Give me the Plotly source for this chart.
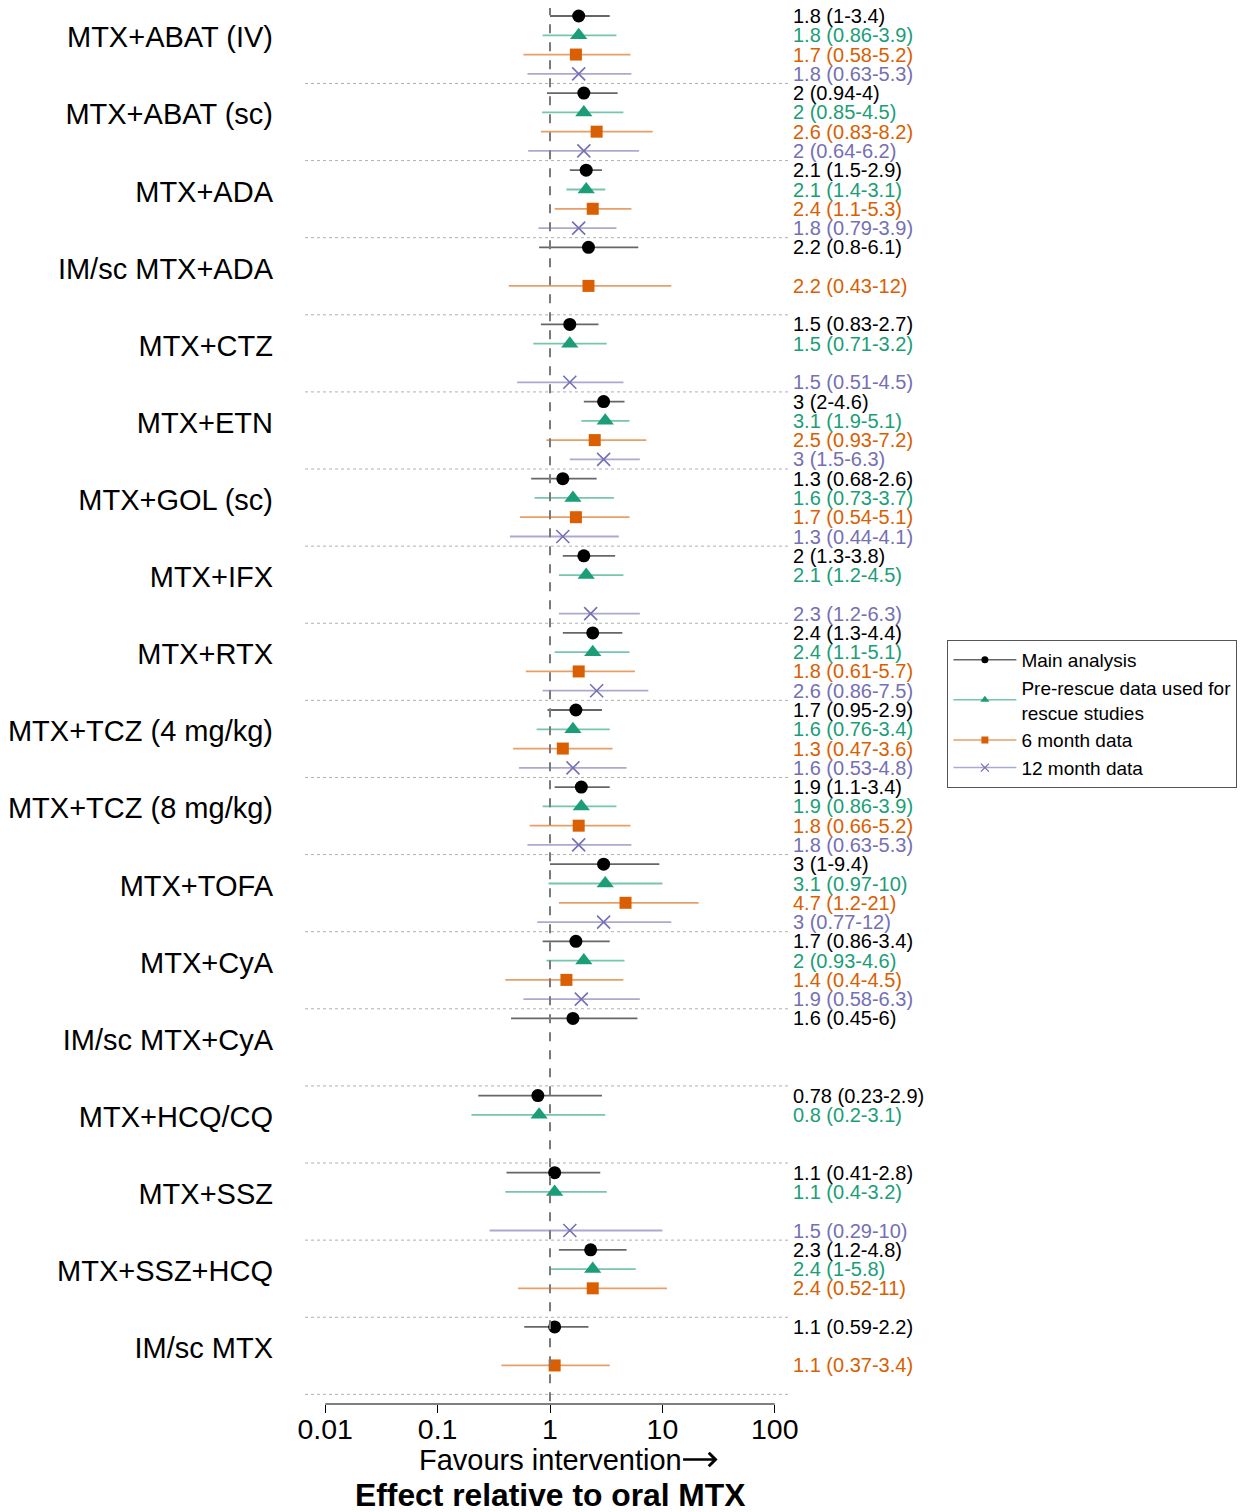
import plotly.graph_objects as go

treatments = ["MTX+ABAT (IV)", "MTX+ABAT (sc)", "MTX+ADA", "IM/sc MTX+ADA", "MTX+CTZ",
              "MTX+ETN", "MTX+GOL (sc)", "MTX+IFX", "MTX+RTX", "MTX+TCZ (4 mg/kg)",
              "MTX+TCZ (8 mg/kg)", "MTX+TOFA", "MTX+CyA", "IM/sc MTX+CyA", "MTX+HCQ/CQ",
              "MTX+SSZ", "MTX+SSZ+HCQ", "IM/sc MTX"]

main_est = [1.8, 2, 2.1, 2.2, 1.5, 3, 1.3, 2, 2.4, 1.7, 1.9, 3, 1.7, 1.6, 0.78, 1.1, 2.3, 1.1]
main_lo = [1, 0.94, 1.5, 0.8, 0.83, 2, 0.68, 1.3, 1.3, 0.95, 1.1, 1, 0.86, 0.45, 0.23, 0.41, 1.2, 0.59]
main_hi = [3.4, 4, 2.9, 6.1, 2.7, 4.6, 2.6, 3.8, 4.4, 2.9, 3.4, 9.4, 3.4, 6, 2.9, 2.8, 4.8, 2.2]

pre_est = [1.8, 2, 2.1, None, 1.5, 3.1, 1.6, 2.1, 2.4, 1.6, 1.9, 3.1, 2, None, 0.8, 1.1, 2.4, None]
pre_lo = [0.86, 0.85, 1.4, None, 0.71, 1.9, 0.73, 1.2, 1.1, 0.76, 0.86, 0.97, 0.93, None, 0.2, 0.4, 1, None]
pre_hi = [3.9, 4.5, 3.1, None, 3.2, 5.1, 3.7, 4.5, 5.1, 3.4, 3.9, 10, 4.6, None, 3.1, 3.2, 5.8, None]

m6_est = [1.7, 2.6, 2.4, 2.2, None, 2.5, 1.7, None, 1.8, 1.3, 1.8, 4.7, 1.4, None, None, None, 2.4, 1.1]
m6_lo = [0.58, 0.83, 1.1, 0.43, None, 0.93, 0.54, None, 0.61, 0.47, 0.66, 1.2, 0.4, None, None, None, 0.52, 0.37]
m6_hi = [5.2, 8.2, 5.3, 12, None, 7.2, 5.1, None, 5.7, 3.6, 5.2, 21, 4.5, None, None, None, 11, 3.4]

m12_est = [1.8, 2, 1.8, None, 1.5, 3, 1.3, 2.3, 2.6, 1.6, 1.8, 3, 1.9, None, None, 1.5, None, None]
m12_lo = [0.63, 0.64, 0.79, None, 0.51, 1.5, 0.44, 1.2, 0.86, 0.53, 0.63, 0.77, 0.58, None, None, 0.29, None, None]
m12_hi = [5.3, 6.2, 3.9, None, 4.5, 6.3, 4.1, 6.3, 7.5, 4.8, 5.3, 12, 6.3, None, None, 10, None, None]

series_names = ["Main analysis", "Pre-rescue data used for<br>rescue studies", "6 month data", "12 month data"]
colors = ["#000000", "#1B9E77", "#D95F02", "#7570B3"]
line_colors = ["rgba(0,0,0,0.6)", "rgba(27,158,119,0.6)", "rgba(217,95,2,0.6)", "rgba(117,112,179,0.6)"]
symbols = ["circle", "triangle-up", "square", "x-thin"]
sizes = [13, 15, 12, 13]
legend_sizes = [7, 8, 7, 8]

series = [(main_est, main_lo, main_hi), (pre_est, pre_lo, pre_hi),
          (m6_est, m6_lo, m6_hi), (m12_est, m12_lo, m12_hi)]

FONT = "Liberation Sans, Arial, Helvetica, sans-serif"
n_groups = len(treatments)

fig = go.Figure()
annotations = []


def fmt(v):
    return f"{v:g}"


for s, (est, lo, hi) in enumerate(series):
    lx, ly, mx, my = [], [], [], []
    for g in range(n_groups):
        if est[g] is None:
            continue
        r = g * 4 + s
        lx += [lo[g], hi[g], None]
        ly += [r, r, None]
        mx.append(est[g])
        my.append(r)
        annotations.append(dict(
            x=0.991, xref="paper", y=r, yref="y", xanchor="left", yanchor="middle",
            text=f"{fmt(est[g])} ({fmt(lo[g])}-{fmt(hi[g])})", showarrow=False,
            font=dict(family=FONT, size=20, color=colors[s])))
    fig.add_trace(go.Scatter(x=lx, y=ly, mode="lines", showlegend=False, hoverinfo="skip",
                             line=dict(color=line_colors[s], width=1.8)))
    mk = dict(color=colors[s], size=sizes[s], symbol=symbols[s])
    if symbols[s] == "x-thin":
        mk["line"] = dict(color=colors[s], width=1.6)
    fig.add_trace(go.Scatter(x=mx, y=my, mode="markers", showlegend=False, marker=mk))
    lmk = dict(color=colors[s], size=legend_sizes[s], symbol=symbols[s])
    if symbols[s] == "x-thin":
        lmk["line"] = dict(color=colors[s], width=1.3)
    fig.add_trace(go.Scatter(x=[None], y=[None], mode="lines+markers", name=series_names[s],
                             marker=lmk, line=dict(color=line_colors[s], width=1.5)))

shapes = []
for k in range(n_groups + 1):
    shapes.append(dict(type="line", xref="paper", yref="y", x0=0, x1=0.99,
                       y0=4 * k - 0.5, y1=4 * k - 0.5,
                       line=dict(color="#b0b0b0", width=1, dash="dot")))
shapes.append(dict(type="line", xref="x", yref="y", x0=1, x1=1, y0=-0.5, y1=72,
                   line=dict(color="#7a7a7a", width=2, dash="dash")))
shapes.append(dict(type="line", xref="x", yref="paper", x0=0.01, x1=100, y0=0, y1=0,
                   line=dict(color="#000000", width=1)))

annotations.append(dict(x=0, xref="x", y=-0.0401, yref="paper", text="Favours intervention",
                        showarrow=False, xanchor="center", yanchor="middle",
                        font=dict(family=FONT, size=29, color="#000")))
annotations.append(dict(x=0.842, xref="paper", y=-0.0398, yref="paper", text="",
                        showarrow=True, ax=-36, ay=0, arrowhead=4, arrowsize=1,
                        arrowwidth=2.6, arrowcolor="#000"))
annotations.append(dict(x=0, xref="x", y=-0.0652, yref="paper", text="<b>Effect relative to oral MTX</b>",
                        showarrow=False, xanchor="center", yanchor="middle",
                        font=dict(family=FONT, size=31.8, color="#000")))

fig.update_layout(
    width=1254, height=1512,
    margin=dict(l=305, r=458.5, t=8, b=108, autoexpand=False),
    paper_bgcolor="white", plot_bgcolor="white",
    font=dict(family=FONT, color="#000"),
    shapes=shapes, annotations=annotations,
    legend=dict(x=1.311, xref="paper", xanchor="left", y=0.4943, yanchor="middle",
                bordercolor="#555", borderwidth=1, bgcolor="white", itemwidth=63,
                font=dict(family=FONT, size=19, color="#000"), tracegroupgap=0),
    xaxis=dict(type="log", range=[-2.18, 2.18], tickvals=[0.01, 0.1, 1, 10, 100],
               ticktext=["0.01", "0.1", "1", "10", "100"], ticks="outside", ticklen=8,
               tickcolor="#000", showgrid=False, zeroline=False, showline=False,
               ticklabelstandoff=-8, automargin=False,
               tickfont=dict(family=FONT, size=28.5, color="#000")),
    yaxis=dict(range=[72, -0.415], tickvals=[g * 4 + 1.1 for g in range(n_groups)],
               ticktext=treatments, ticks="", showgrid=False, zeroline=False,
               showline=False, ticklabelstandoff=31, automargin=False,
               tickfont=dict(family=FONT, size=29, color="#000")),
)

fig.write_html("out.html", config={"displayModeBar": False},
               post_script="document.body.style.margin='0';document.body.style.overflow='hidden';")
